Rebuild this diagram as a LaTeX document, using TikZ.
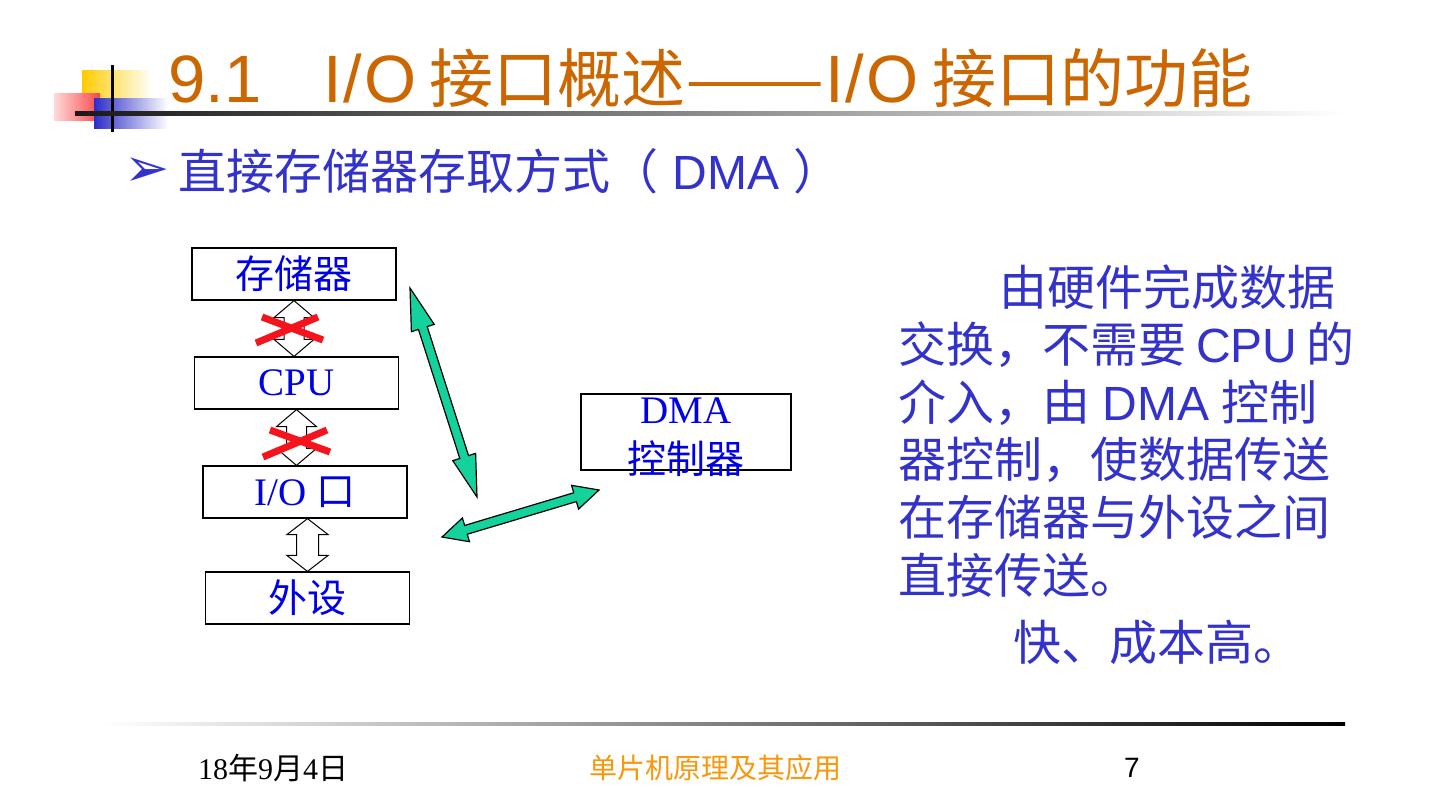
\documentclass[tikz,border=0pt]{standalone}
\usepackage{graphicx}
\usepackage{fontspec}
\setmainfont{Liberation Sans}
\newfontfamily\cjk{Noto Sans CJK SC}
\newfontfamily\serifen{Liberation Serif}
\newfontfamily\dingbat{DejaVu Sans}
\usetikzlibrary{calc,positioning}
\definecolor{ttorange}{RGB}{204,102,0}
\definecolor{textblue}{RGB}{51,51,204}
\definecolor{boxblue}{RGB}{0,0,230}
\definecolor{dmagreen}{RGB}{20,210,155}
\definecolor{crossred}{RGB}{245,20,30}
\definecolor{footorange}{RGB}{250,150,10}
\definecolor{decoyellow}{RGB}{255,204,0}
\definecolor{decored}{RGB}{250,70,70}
\definecolor{decoblue}{RGB}{45,45,200}

% double block arrow between two points: style, from, to, shaft half width, head half width, head length
\newcommand{\dblarrow}[6]{%
  \path (#2) coordinate (ta) (#3) coordinate (tb);
  \path ($(ta)!#6!(tb)$) coordinate (ha) ($(tb)!#6!(ta)$) coordinate (hb);
  \draw[#1] (ta) -- ($(ha)!#5!90:(tb)$) -- ($(ha)!#4!90:(tb)$) -- ($(hb)!#4!-90:(ta)$)
    -- ($(hb)!#5!-90:(ta)$) -- (tb) -- ($(hb)!#5!90:(ta)$) -- ($(hb)!#4!90:(ta)$)
    -- ($(ha)!#4!-90:(tb)$) -- ($(ha)!#5!-90:(tb)$) -- cycle;
}

\tikzset{
  unitbox/.style={draw=black, line width=0.6pt, fill=white, minimum width=102pt,
    minimum height=26pt, inner sep=0pt, text=boxblue, font=\fontsize{19.5}{24}\selectfont},
  whitearrow/.style={draw=black, line width=0.5pt, fill=white, line join=miter},
  greenarrow/.style={draw=black, line width=0.6pt, fill=dmagreen, line join=miter},
  redcross/.style={draw=crossred, line width=3.5pt},
}

\begin{document}
\begin{tikzpicture}[x=0.5pt, y=-0.5pt]
\useasboundingbox (0,0) rectangle (1440,810);

% === Corner decoration ===
\shade[left color=decoyellow, middle color=decoyellow, right color=white] (82,70) rectangle (152,100);
\shade[left color=decored!20, right color=decored] (54,93) rectangle (100,120);
\shade[left color=decoblue, middle color=decoblue, right color=white] (94,98) rectangle (168,128);
\draw[line width=1.5pt] (112,65) -- (112,132);
\shade[left color=black!90, middle color=black!60, right color=white] (75,111) rectangle (1345,115);

% === Title ===
\node[anchor=base west, inner sep=0pt, text=ttorange, font=\fontsize{33.5}{38}\selectfont] (title) at (168,102)
     {9.1\hspace{0.92em}I\kern1pt/\kern1pt O\hspace{0.2em}{\cjk\fontsize{32}{38}\selectfont 接口概述\scalebox{1.3}[1]{——}}I\kern1pt/\kern1pt O\hspace{0.2em}{\cjk\fontsize{32}{38}\selectfont 接口的功能}};

% === Subtitle ===
\node[anchor=base west, inner sep=0pt, text=textblue, font=\dingbat\fontsize{27}{30}\selectfont] (bullet) at (124,186) {➢};
\node[anchor=base west, inner sep=0pt, text=textblue, font=\fontsize{24}{28}\selectfont] (subtitle) at (178,189)
     {{\cjk 直接存储器存取方式（}\hspace{0.3em}DMA\hspace{0.3em}{\cjk ）}};

% === Left column of units ===
\node[unitbox, font=\cjk\fontsize{19.5}{24}\selectfont] (mem) at (294,274) {存储器};
\node[unitbox, font=\serifen\fontsize{19.5}{24}\selectfont] (cpu) at (296.5,383) {CPU};
\node[unitbox, font=\serifen\fontsize{19.5}{24}\selectfont] (io) at (305,492) {I/O {\cjk 口}};
\node[unitbox, font=\cjk\fontsize{19.5}{24}\selectfont] (dev) at (307.5,598) {外设};

% === DMA controller ===
\node[unitbox, minimum width=105pt, minimum height=38pt] (dma) at (686,432) {};
\node[inner sep=0pt, align=center, text=boxblue, font=\serifen\fontsize{19.5}{25}\selectfont] (dmatext) at (686,437)
     {DMA\\{\cjk 控制器}};

% === Block arrows between units ===
\dblarrow{whitearrow}{mem.south}{mem.south |- cpu.north}{5pt}{10pt}{8.5pt}
\dblarrow{whitearrow}{cpu.south}{cpu.south |- io.north}{5pt}{10pt}{8.5pt}
\dblarrow{whitearrow}{io.south -| dev.north}{dev.north}{5.5pt}{10.3pt}{8pt}

% crosses
\draw[redcross] (262,317) -- (323,340) (256,343) -- (318,317);
\draw[redcross] (270,430) -- (330,452) (263,457) -- (327,430);

% === DMA transfer arrows ===
\coordinate (memtip) at (410,288);
\coordinate (iotip) at (477,497);
\coordinate (devtip) at (442,537);
\coordinate (dmatip) at (599,490);
\dblarrow{greenarrow}{memtip}{iotip}{2.3pt}{6pt}{21pt}
\dblarrow{greenarrow}{devtip}{dmatip}{2.3pt}{6.2pt}{12.5pt}

% === Description ===
\node[anchor=north west, inner sep=0pt, align=left, text=textblue, font=\cjk\fontsize{24}{28.8}\selectfont] (desc) at (898,264)
     {\hspace*{2.1em}由硬件完成数据\\
      交换，不需要\hspace{0.2em}{\rmfamily CPU}\hspace{0.2em}的\\
      介入，由\hspace{0.25em}{\rmfamily DMA}\hspace{0.25em}控制\\
      器控制，使数据传送\\
      在存储器与外设之间\\
      直接传送。\\[5pt]
      \hspace*{2.4em}快、成本高。};

% === Footer ===
\shade[left color=white, right color=black] (100,722) rectangle (1345,725);
\node[inner sep=0pt, font=\serifen\fontsize{15}{17}\selectfont] (date) at (273,768) {18{\cjk 年}9{\cjk 月}4{\cjk 日}};
\node[inner sep=0pt, text=footorange, font=\cjk\fontsize{14}{16}\selectfont] (course) at (715,768) {单片机原理及其应用};
\node[inner sep=0pt, font=\fontsize{14}{16}\selectfont] (page) at (1132,768) {7};

\end{tikzpicture}
\end{document}
